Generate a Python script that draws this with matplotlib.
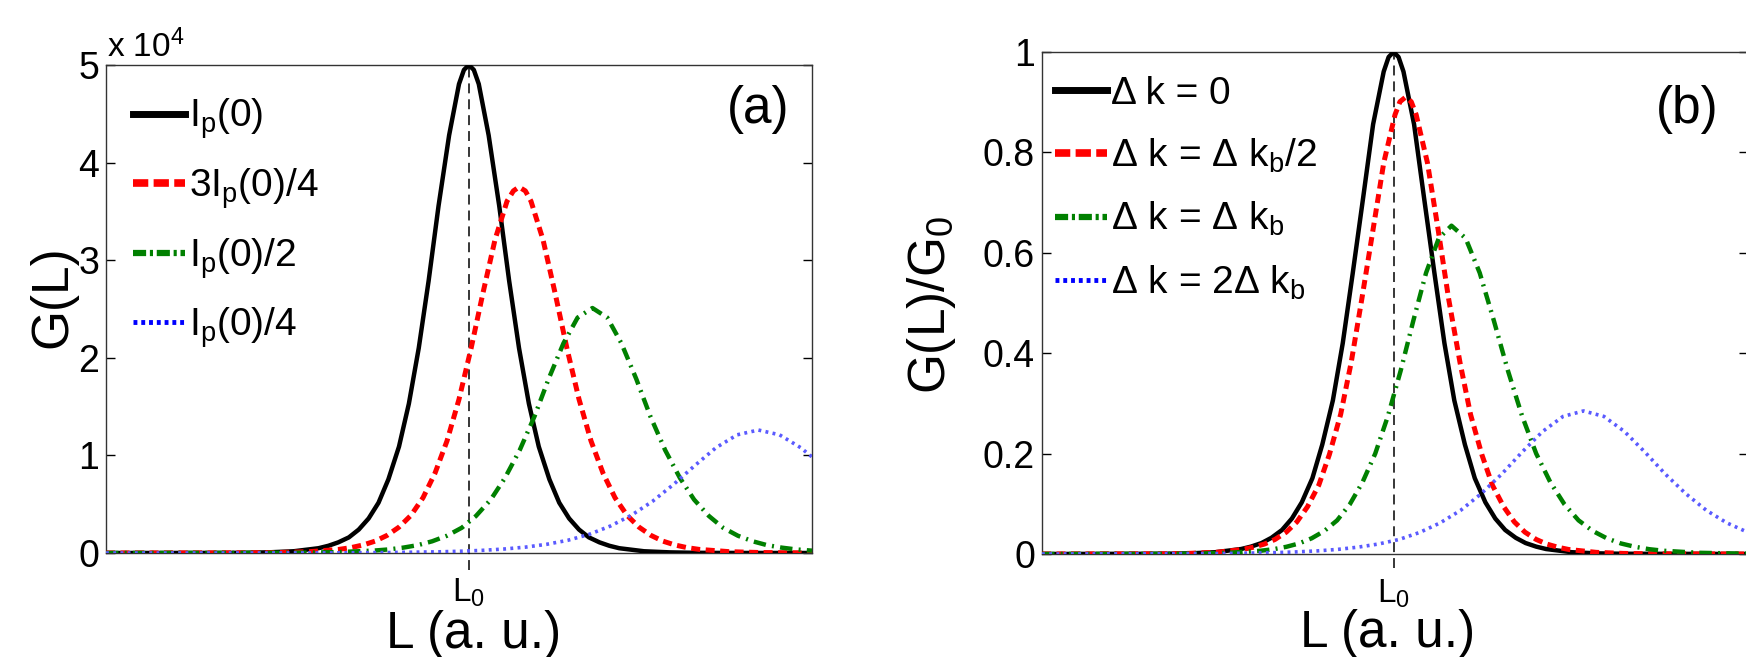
import matplotlib
matplotlib.use("Agg")
import matplotlib.pyplot as plt
from matplotlib.lines import Line2D

plt.rcParams['font.family'] = ['Liberation Sans', 'DejaVu Sans']
plt.rcParams['mathtext.fontset'] = 'custom'
plt.rcParams['mathtext.rm'] = 'Liberation Sans'
plt.rcParams['mathtext.it'] = 'Liberation Sans:italic'
plt.rcParams['mathtext.bf'] = 'Liberation Sans:bold'
plt.rcParams['mathtext.default'] = 'regular'

# ---------------- data (x in a.u., normalised to the axis span) ----------------
L0_A = 0.514
L0_B = 0.498

# panel (a): G(L) in units of 1e4
xa_k = [0.0, 0.159, 0.195, 0.230, 0.266, 0.301, 0.315, 0.329, 0.344, 0.358, 0.372, 0.386, 0.400, 0.415,
        0.429, 0.443, 0.457, 0.471, 0.486, 0.500, 0.507, 0.514, 0.521, 0.528, 0.542, 0.557, 0.571, 0.585,
        0.599, 0.613, 0.628, 0.642, 0.656, 0.670, 0.684, 0.699, 0.713, 0.727, 0.762, 0.798, 0.833, 0.869, 1.0]
ya_k = [0, 0.0009, 0.002, 0.0067, 0.018, 0.049, 0.074, 0.109, 0.16, 0.24, 0.354, 0.515, 0.755, 1.09,
        1.53, 2.10, 2.79, 3.555, 4.28, 4.805, 4.95, 5.0, 4.95, 4.805, 4.28, 3.555, 2.79, 2.10,
        1.53, 1.09, 0.755, 0.515, 0.354, 0.24, 0.16, 0.109, 0.074, 0.049, 0.018, 0.0067, 0.002, 0.0009, 0]

xa_r = [0.0, 0.203, 0.245, 0.288, 0.330, 0.347, 0.364, 0.381, 0.398, 0.415, 0.432, 0.449, 0.466, 0.483,
        0.500, 0.517, 0.534, 0.551, 0.568, 0.577, 0.585, 0.594, 0.602, 0.619, 0.636, 0.653, 0.670, 0.687,
        0.704, 0.721, 0.738, 0.755, 0.772, 0.789, 0.806, 0.823, 0.840, 0.883, 0.925, 0.968, 1.0]
ya_r = [0, 0.002, 0.005, 0.0135, 0.037, 0.055, 0.082, 0.121, 0.18, 0.265, 0.386, 0.566, 0.818, 1.148,
        1.575, 2.093, 2.666, 3.21, 3.604, 3.71, 3.75, 3.71, 3.604, 3.21, 2.666, 2.093, 1.575, 1.148,
        0.818, 0.566, 0.386, 0.265, 0.18, 0.121, 0.082, 0.055, 0.037, 0.0135, 0.005, 0.002, 0.001]

xa_g = [0.0, 0.226, 0.277, 0.329, 0.380, 0.401, 0.421, 0.442, 0.462, 0.483, 0.504, 0.524, 0.545, 0.565,
        0.586, 0.607, 0.627, 0.648, 0.668, 0.689, 0.710, 0.730, 0.751, 0.771, 0.792, 0.813, 0.833, 0.854,
        0.874, 0.895, 0.916, 0.936, 0.957, 0.977, 1.0]
ya_g = [0, 0.0012, 0.0034, 0.009, 0.025, 0.037, 0.055, 0.081, 0.120, 0.177, 0.259, 0.379, 0.547, 0.768,
        1.054, 1.401, 1.785, 2.149, 2.412, 2.51, 2.412, 2.149, 1.785, 1.401, 1.054, 0.768, 0.547, 0.379,
        0.259, 0.177, 0.120, 0.081, 0.055, 0.037, 0.024]

xa_b = [0.0, 0.249, 0.324, 0.399, 0.474, 0.504, 0.534, 0.564, 0.594, 0.624, 0.654, 0.684, 0.714, 0.744,
        0.774, 0.804, 0.834, 0.864, 0.894, 0.924, 0.954, 0.984, 1.0]
ya_b = [0, 0.0006, 0.0017, 0.0045, 0.0125, 0.0185, 0.0275, 0.041, 0.060, 0.089, 0.130, 0.190, 0.275, 0.386,
        0.529, 0.703, 0.896, 1.079, 1.211, 1.26, 1.211, 1.079, 0.984]

# panel (b): G(L)/G0
xb_k = [0.0, 0.174, 0.210, 0.246, 0.282, 0.296, 0.311, 0.325, 0.340, 0.354, 0.368, 0.383, 0.397, 0.412,
        0.426, 0.440, 0.455, 0.469, 0.484, 0.491, 0.498, 0.505, 0.512, 0.527, 0.541, 0.556, 0.570, 0.584,
        0.599, 0.613, 0.628, 0.642, 0.656, 0.671, 0.685, 0.700, 0.714, 0.750, 0.786, 0.822, 1.0]
yb_k = [0, 0.0005, 0.0013, 0.0036, 0.0099, 0.0147, 0.0218, 0.0323, 0.0479, 0.0707, 0.103, 0.151, 0.218, 0.306,
        0.420, 0.558, 0.711, 0.856, 0.961, 0.990, 1.0, 0.990, 0.961, 0.856, 0.711, 0.558, 0.420, 0.306,
        0.218, 0.151, 0.103, 0.0707, 0.0479, 0.0323, 0.0218, 0.0147, 0.0099, 0.0036, 0.0013, 0.0005, 0]

xb_r = [0.0, 0.169, 0.207, 0.246, 0.284, 0.299, 0.315, 0.330, 0.346, 0.361, 0.376, 0.392, 0.407, 0.423,
        0.438, 0.453, 0.469, 0.484, 0.500, 0.507, 0.515, 0.523, 0.530, 0.546, 0.561, 0.576, 0.592, 0.607,
        0.623, 0.638, 0.654, 0.669, 0.684, 0.700, 0.715, 0.731, 0.746, 0.785, 0.823, 0.862, 1.0]
yb_r = [0, 0.0004, 0.0012, 0.0033, 0.009, 0.0134, 0.0198, 0.029, 0.0436, 0.064, 0.094, 0.137, 0.198, 0.278,
        0.382, 0.508, 0.647, 0.779, 0.875, 0.901, 0.91, 0.901, 0.875, 0.779, 0.647, 0.508, 0.382, 0.278,
        0.198, 0.137, 0.094, 0.064, 0.0436, 0.029, 0.0198, 0.0134, 0.009, 0.0033, 0.0012, 0.0004, 0]

xb_g = [0.0, 0.175, 0.220, 0.265, 0.310, 0.328, 0.346, 0.364, 0.382, 0.400, 0.418, 0.436, 0.454, 0.472,
        0.490, 0.508, 0.526, 0.544, 0.562, 0.580, 0.600, 0.620, 0.640, 0.660, 0.680, 0.700, 0.720, 0.740,
        0.760, 0.780, 0.800, 0.820, 0.840, 0.860, 0.880, 0.930, 1.0]
yb_g = [0, 0.0003, 0.0009, 0.0024, 0.0065, 0.0096, 0.0143, 0.021, 0.0313, 0.046, 0.067, 0.099, 0.143, 0.200,
        0.275, 0.365, 0.465, 0.560, 0.629, 0.654, 0.629, 0.560, 0.465, 0.365, 0.275, 0.200, 0.143, 0.099,
        0.067, 0.046, 0.0313, 0.021, 0.0143, 0.0096, 0.0065, 0.0024, 0.0006]

xb_b = [0.0, 0.260, 0.332, 0.361, 0.390, 0.419, 0.448, 0.477, 0.506, 0.535, 0.564, 0.593, 0.622, 0.651,
        0.680, 0.709, 0.738, 0.767, 0.796, 0.825, 0.854, 0.883, 0.912, 0.941, 0.970, 1.0]
yb_b = [0, 0.001, 0.0028, 0.0042, 0.0062, 0.0092, 0.0137, 0.020, 0.029, 0.043, 0.062, 0.087, 0.120, 0.159,
        0.203, 0.244, 0.274, 0.285, 0.274, 0.244, 0.203, 0.159, 0.120, 0.087, 0.062, 0.043]

labels_a = [r'I$_p$(0)', r'3I$_p$(0)/4', r'I$_p$(0)/2', r'I$_p$(0)/4']
labels_b = [r'Δ k = 0', r'Δ k = Δ k$_b$/2', r'Δ k = Δ k$_b$', r'Δ k = 2Δ k$_b$']
yticks_a = [0, 1, 2, 3, 4, 5]
yticks_b = [0, 0.2, 0.4, 0.6, 0.8, 1.0]
yticklabels_b = ['0', '0.2', '0.4', '0.6', '0.8', '1']

# ---------------- styles ----------------
C_K, C_R, C_G, C_B = 'black', '#ff0000', '#008000', '#5a5aff'
plot_styles = [
    dict(color=C_K, lw=3.2, ls='-'),
    dict(color=C_R, lw=3.6, ls=(0, (1.8, 1.1))),
    dict(color=C_G, lw=3.2, ls=(0, (2.8, 1.4, 0.45, 1.4))),
    dict(color=C_B, lw=2.6, ls=(0, (0.8, 1.2))),
]
legend_styles = [
    dict(color='black', lw=5.0, ls='-'),
    dict(color='#ff0000', lw=5.5, ls=(0, (2.0, 0.7))),
    dict(color='#008000', lw=4.5, ls=(0, (2.1, 0.6, 0.5, 0.6))),
    dict(color='#0000ff', lw=3.5, ls=(0, (0.8, 0.8))),
]

W, H = 1746, 657
fig = plt.figure(figsize=(W / 100, H / 100), dpi=100)
axA = fig.add_axes([106 / W, 1 - 553 / H, 706 / W, 488 / H])
axB = fig.add_axes([1042 / W, 1 - 554 / H, 706 / W, 502 / H])

series_a = [(xa_k, ya_k), (xa_r, ya_r), (xa_g, ya_g), (xa_b, ya_b)]
series_b = [(xb_k, yb_k), (xb_r, yb_r), (xb_g, yb_g), (xb_b, yb_b)]

for ax, series in ((axA, series_a), (axB, series_b)):
    for (xs, ys), st in zip(series, plot_styles):
        ax.plot(xs, ys, zorder=3, dash_capstyle='butt', solid_capstyle='butt',
                solid_joinstyle='round', **st)
    ax.set_xlim(0, 1)
    for sp in ax.spines.values():
        sp.set_linewidth(1.0)
        sp.set_color('#333333')
    ax.tick_params(axis='y', direction='in', length=6.5, width=1.0, right=True,
                   labelsize=27, pad=5, colors='black')
    ax.tick_params(axis='x', length=0, labelsize=24, pad=17)

axA.set_ylim(0, 5)
axA.set_yticks(yticks_a)
axA.set_yticklabels([str(v) for v in yticks_a])
axA.set_xticks([L0_A])
axA.set_xticklabels([r'L$_0$'])
axA.plot([L0_A, L0_A], [-0.174, 5.0], color='black', lw=1.1, ls=(0, (6.5, 3.9)),
         clip_on=False, zorder=2.6)

axB.set_ylim(0, 1.0)
axB.set_yticks(yticks_b)
axB.set_yticklabels(yticklabels_b)
axB.set_xticks([L0_B])
axB.set_xticklabels([r'L$_0$'])
axB.plot([L0_B, L0_B], [-0.028, 1.0], color='black', lw=1.1, ls=(0, (6.5, 3.9)),
         clip_on=False, zorder=2.6)

# legends
hA = [Line2D([], [], **st) for st in legend_styles]
axA.legend(hA, labels_a, loc='upper left', bbox_to_anchor=(0.038, 0.935), frameon=False,
           fontsize=28, handlelength=1.34, handletextpad=0.1, labelspacing=0.64,
           borderpad=0, borderaxespad=0)
hB = [Line2D([], [], **st) for st in legend_styles]
axB.legend(hB, labels_b, loc='upper left', bbox_to_anchor=(0.018, 0.952), frameon=False,
           fontsize=28, handlelength=1.34, handletextpad=0.1, labelspacing=0.64,
           borderpad=0, borderaxespad=0)

# texts
fig.text(107 / W, 1 - 57 / H, r'x 10$^4$', fontsize=24, va='baseline', ha='left')
fig.text(758 / W, 1 - 110 / H, '(a)', fontsize=37, ha='center', va='center')
fig.text(1687 / W, 1 - 110 / H, '(b)', fontsize=37, ha='center', va='center')
fig.text(473.5 / W, 1 - 648 / H, 'L (a. u.)', fontsize=37, ha='center', va='baseline')
fig.text(1388 / W, 1 - 647 / H, 'L (a. u.)', fontsize=37, ha='center', va='baseline')
fig.text(66 / W, 1 - 297 / H, 'G(L)', fontsize=37, rotation=90, rotation_mode='anchor',
         ha='center', va='baseline')
fig.text(945 / W, 1 - 305 / H, r'G(L)/G$_0$', fontsize=37, rotation=90, rotation_mode='anchor',
         ha='center', va='baseline')

fig.savefig('out.png', dpi=100)
